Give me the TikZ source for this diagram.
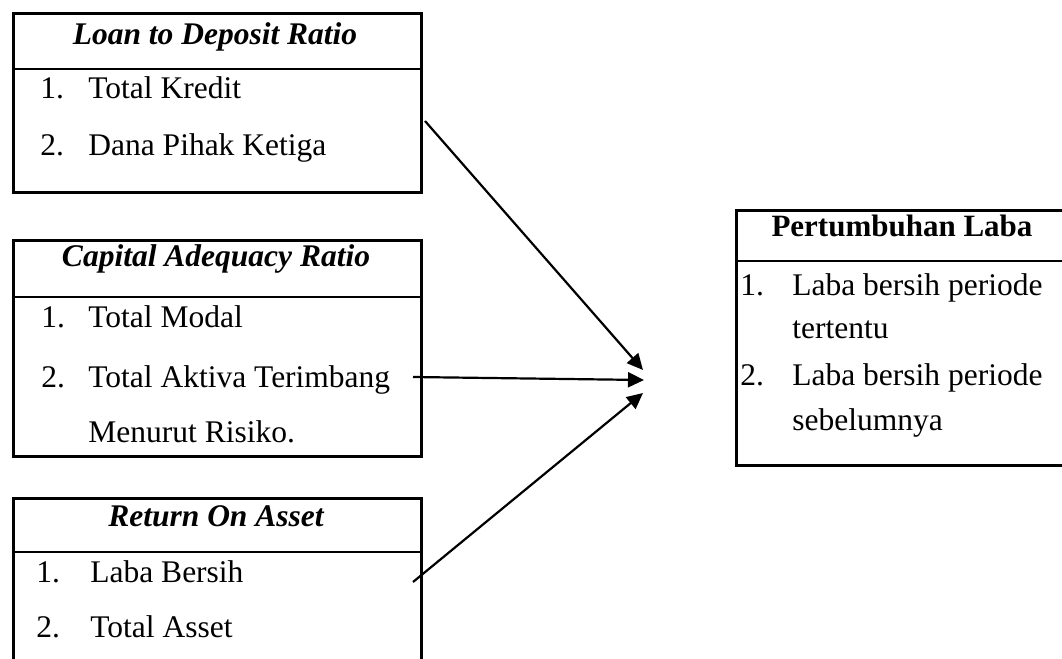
\documentclass[tikz,border=0pt]{standalone}
\usepackage{fontspec}
\setmainfont{Liberation Serif}
\usetikzlibrary{arrows.meta}
\begin{document}
\begin{tikzpicture}[x=0.5pt,y=-0.5pt,
  frame/.style={draw, line width=1.4pt, inner sep=0pt, anchor=north west},
  rule/.style={line width=1.4pt},
  ttl/.style={font=\fontsize{15.75}{19}\selectfont\bfseries\itshape, anchor=base, inner sep=0pt},
  ttlup/.style={font=\fontsize{15.5}{19}\selectfont\bfseries, anchor=base, inner sep=0pt},
  item/.style={font=\fontsize{15.75}{19}\selectfont, anchor=base west, inner sep=0pt},
  arr/.style={line width=1.1pt, -{Triangle[length=8pt,width=7.5pt]}}]
\useasboundingbox (0,0) rectangle (1062,659);
% Box 1
\node[frame, minimum width=204pt, minimum height=89.5pt] (b1) at (12,12) {};
\draw[rule] (12,69) -- (420,69);
\node[ttl] (t1) at (215,44) {Loan to Deposit Ratio};
\node[item] (n11) at (40,98) {1.};
\node[item] (i11) at (88,98) {Total Kredit};
\node[item] (n12) at (40,155) {2.};
\node[item] (i12) at (88,155) {Dana Pihak Ketiga};
% Box 2
\node[frame, minimum width=204pt, minimum height=108pt] (b2) at (12,239) {};
\draw[rule] (12,297) -- (420,297);
\node[ttl] (t2) at (216,266) {Capital Adequacy Ratio};
\node[item] (n21) at (41,327) {1.};
\node[item] (i21) at (88,327) {Total Modal};
\node[item] (n22) at (41,387) {2.};
\node[item] (i22) at (88,387) {Total Aktiva Terimbang};
\node[item] (i23) at (88,442) {Menurut Risiko.};
% Box 3
\node[frame, minimum width=204pt, minimum height=90pt] (b3) at (12,497) {};
\draw[rule] (12,552) -- (420,552);
\node[ttl] (t3) at (216,526) {Return On Asset};
\node[item] (n31) at (36,582) {1.};
\node[item] (i31) at (90,582) {Laba Bersih};
\node[item] (n32) at (36,637) {2.};
\node[item] (i32) at (90,637) {Total Asset};
% Box 4
\node[frame, minimum width=167.5pt, minimum height=127.5pt] (b4) at (735,209) {};
\draw[rule] (735,261) -- (1070,261);
\node[ttlup] (t4) at (902,236) {Pertumbuhan Laba};
\node[item] (n41) at (740,295) {1.};
\node[item] (i41) at (792,295) {Laba bersih periode};
\node[item] (i42) at (792,338) {tertentu};
\node[item] (n42) at (740,385) {2.};
\node[item] (i43) at (792,385) {Laba bersih periode};
\node[item] (i44) at (792,430) {sebelumnya};
% Arrows
\coordinate (s1) at (425,121);
\coordinate (e1) at (643,370);
\coordinate (s2) at (413,377);
\coordinate (e2) at (644,380);
\coordinate (s3) at (413,582);
\coordinate (e3) at (643,393);
\draw[arr] (s1) -- (e1);
\draw[arr] (s2) -- (e2);
\draw[arr] (s3) -- (e3);
\end{tikzpicture}
\end{document}
